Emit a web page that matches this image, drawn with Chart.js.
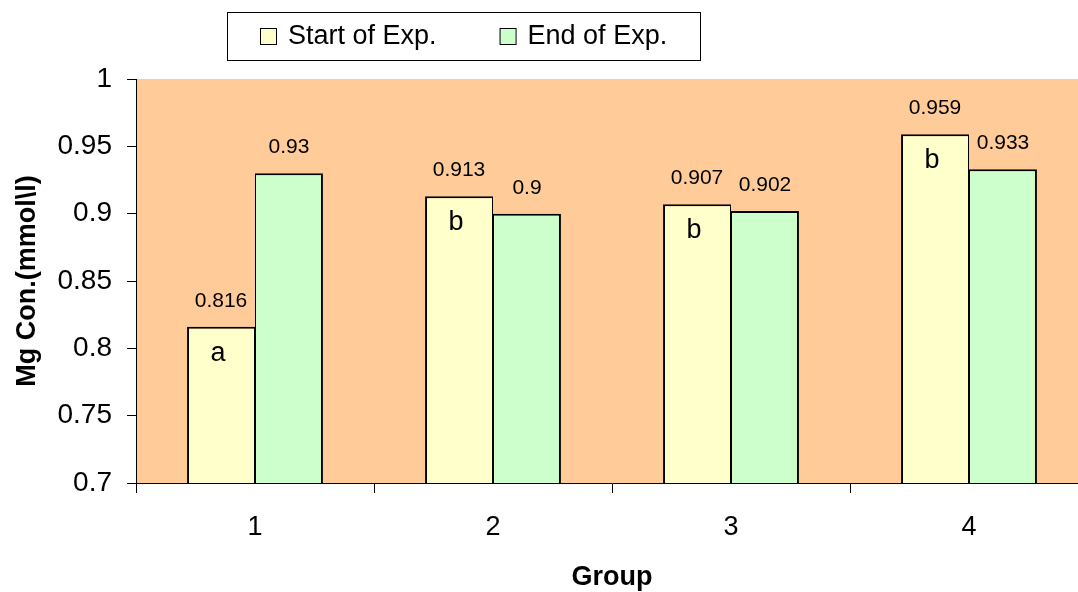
<!DOCTYPE html>
<html lang="en">

<head>
  <meta charset="UTF-8">
  <title>Mg Concentration by Group</title>
  <style>
    body {
      margin: 0;
      padding: 0;
      background: #fff;
      overflow: hidden;
    }

    #wrap {
      position: relative;
      width: 1090px;
      height: 592px;
    }
  </style>
</head>

<body>
  <div id="wrap">
    <canvas id="chart"></canvas>
  </div>

  <script src="https://cdn.jsdelivr.net/npm/chart.js"></script>

  <script>
    const groups = ['1', '2', '3', '4'];
    const startValues = [0.816, 0.913, 0.907, 0.959];
    const endValues = [0.93, 0.9, 0.902, 0.933];
    const letters = ['a', 'b', 'b', 'b'];
    const seriesNames = ['Start of Exp.', 'End of Exp.'];

    const FONT = "'Liberation Sans', Arial, sans-serif";

    // orange plot background
    const plotBg = {
      id: 'plotBg',
      beforeDraw(chart) {
        const { ctx, chartArea: a } = chart;
        ctx.save();
        ctx.fillStyle = '#FFCC99';
        ctx.fillRect(a.left, a.top, a.right - a.left, a.bottom - a.top);
        ctx.restore();
      }
    };

    // value labels above the bars, letters inside the start bars
    const barLabels = {
      id: 'barLabels',
      afterDatasetsDraw(chart) {
        const ctx = chart.ctx;
        ctx.save();
        ctx.fillStyle = '#000';
        ctx.textAlign = 'center';
        ctx.textBaseline = 'alphabetic';
        chart.data.datasets.forEach((ds, di) => {
          const meta = chart.getDatasetMeta(di);
          meta.data.forEach((bar, i) => {
            ctx.font = '21px ' + FONT;
            ctx.fillText(String(ds.data[i]), bar.x, bar.y - 20);
            if (di === 0) {
              ctx.font = '27px ' + FONT;
              ctx.fillText(letters[i], bar.x - 3, bar.y + 34);
            }
          });
        });
        ctx.restore();
      }
    };

    // boxed legend above the plot
    const boxLegend = {
      id: 'boxLegend',
      afterDraw(chart) {
        const ctx = chart.ctx;
        const x0 = 227, y0 = 12, w = 473, h = 48;
        ctx.save();
        ctx.fillStyle = '#fff';
        ctx.fillRect(x0, y0, w, h);
        ctx.strokeStyle = '#000';
        ctx.lineWidth = 1;
        ctx.strokeRect(x0 + 0.5, y0 + 0.5, w, h);
        ctx.font = '27px ' + FONT;
        ctx.textBaseline = 'middle';
        let x = x0 + 33;
        chart.data.datasets.forEach((ds) => {
          ctx.fillStyle = ds.backgroundColor;
          ctx.fillRect(x, y0 + 16, 16, 16);
          ctx.strokeRect(x + 0.5, y0 + 16.5, 16, 16);
          ctx.fillStyle = '#000';
          ctx.fillText(ds.label, x + 28, y0 + 25);
          x += 28 + ctx.measureText(ds.label).width + 63;
        });
        ctx.restore();
      }
    };

    const ctx = document.getElementById('chart').getContext('2d');
    new Chart(ctx, {
      type: 'bar',
      data: {
        labels: groups,
        datasets: [{
          label: seriesNames[0],
          data: startValues,
          backgroundColor: '#FFFFCC',
          borderColor: '#000',
          borderWidth: { top: 2, left: 2, right: 1, bottom: 0 },
          borderSkipped: false
        }, {
          label: seriesNames[1],
          data: endValues,
          backgroundColor: '#CCFFCC',
          borderColor: '#000',
          borderWidth: { top: 2, left: 1, right: 2, bottom: 0 },
          borderSkipped: false
        }]
      },
      options: {
        responsive: true,
        maintainAspectRatio: false,
        animation: false,
        devicePixelRatio: 1,
        layout: {
          padding: { top: 79, right: 2, bottom: 0, left: 0 }
        },
        datasets: {
          bar: {
            categoryPercentage: 0.571,
            barPercentage: 1
          }
        },
        plugins: {
          legend: { display: false },
          tooltip: { enabled: false }
        },
        scales: {
          x: {
            afterFit(scale) { scale.height = 109; },
            grid: {
              drawOnChartArea: false,
              tickLength: 10,
              color: '#000'
            },
            border: { color: '#000', width: 1 },
            ticks: {
              color: '#000',
              padding: 21,
              font: { family: FONT, size: 27, lineHeight: 1 }
            },
            title: {
              display: true,
              text: 'Group',
              color: '#000',
              font: { family: FONT, size: 27, weight: 'bold', lineHeight: 1 },
              padding: { top: 0, bottom: 1 }
            }
          },
          y: {
            min: 0.7,
            max: 1,
            afterFit(scale) { scale.width = 136; },
            grid: {
              drawOnChartArea: false,
              tickLength: 9,
              color: '#000'
            },
            border: { color: '#000', width: 1 },
            ticks: {
              stepSize: 0.05,
              color: '#000',
              padding: 15,
              font: { family: FONT, size: 28 },
              callback: (v) => String(+v.toFixed(2))
            },
            title: {
              display: true,
              text: 'Mg Con.(mmol\\l)',
              color: '#000',
              font: { family: FONT, size: 27, weight: 'bold', lineHeight: 1 },
              padding: { top: 14, bottom: 0 }
            }
          }
        }
      },
      plugins: [plotBg, barLabels, boxLegend]
    });
  </script>
</body>

</html>
